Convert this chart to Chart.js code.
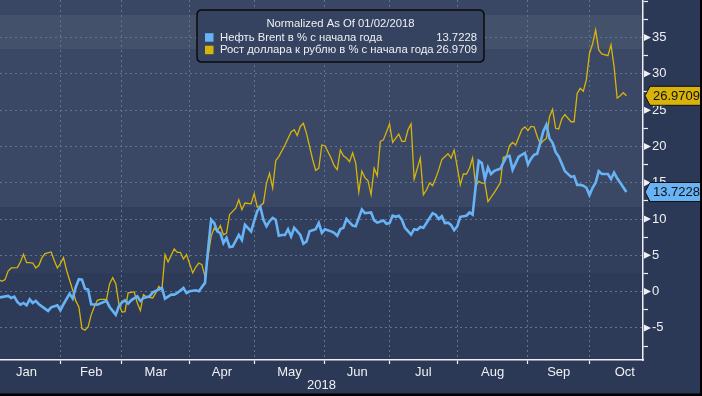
<!DOCTYPE html>
<html>
<head>
<meta charset="utf-8">
<script src="https://cdn.jsdelivr.net/npm/chart.js@4.4.1/dist/chart.umd.min.js"></script>
<style>
html,body{margin:0;padding:0;background:#2c3956;overflow:hidden;}
#wrap{width:702px;height:396px;position:relative;}
</style>
</head>
<body>
<div id="wrap"><canvas id="c" width="702" height="396"></canvas></div>
<script>
// x values are weekday (trading-day) indices counted from Mon 2018-01-01 = 0
const brentDays = [
  3,6,7,8,9,10,11,12,13,14,
  15,16,19,20,22,23,24,26,27,28,
  29,30,31,32,33,35,38,39,41,42,
  43,44,45,46,48,49,50,52,53,55,
  56,57,59,60,61,63,64,65,67,68,
  69,70,71,72,73,74,75,76,77,78,
  79,81,82,83,85,86,87,88,89,90,
  91,92,93,94,95,96,97,98,99,101,
  102,103,104,106,107,108,109,111,112,113,
  114,115,116,118,119,120,121,122,124,125,
  126,128,129,130,131,132,133,134,135,137,
  138,139,140,141,142,144,145,146,147,148,
  149,150,151,152,153,155,156,157,158,159,
  160,161,162,163,164,165,166,168,169,170,
  171,172,174,175,176,177,178,179,180,181,
  182,183,184,185,186,187,189,190,191,192,
  193,194,195,196,197,198,199,201,202,203,
  204,205,207
];
const brentValues = [
  -0.83,-0.6,-0.87,-0.69,-1.42,-1.79,-1.56,-1.88,-1.06,-1.56,
  -1.28,-1.74,-2.66,-2.16,-1.88,-2.57,-1.74,-0.28,-0.96,0.64,
  1.7,1.65,0.41,0.28,-1.74,-1.79,-1.28,-2.11,-3.21,-2.0,
  -1.5,-1.2,-1.65,-1.2,-0.64,-1.3,-0.87,-0.64,-0.1,0.28,
  0.5,-0.96,-0.41,-0.41,-0.18,0.5,-0.18,0.05,0.18,0.05,
  0.64,1.2,5.8,9.9,9.45,8.3,8.07,6.7,7.4,6.15,
  6.2,7.8,7.1,9.2,8.3,9.75,11.1,11.65,9.9,9.0,
  9.7,10.15,9.9,7.7,7.8,7.8,8.6,7.6,8.8,7.8,
  6.6,6.9,8.3,8.6,9.45,8.1,8.6,8.3,8.1,7.7,
  8.6,8.8,10.0,9.1,9.0,10.15,11.3,10.8,10.9,9.8,
  9.5,9.8,9.35,9.45,10.45,10.3,10.45,9.9,8.8,7.85,
  8.6,8.5,8.9,8.8,9.45,10.8,10.6,10.0,10.4,9.45,
  9.5,9.2,8.45,9.0,10.3,10.45,10.9,10.6,14.5,18.0,
  17.7,15.5,17.1,16.2,16.6,16.8,16.9,18.6,18.7,16.8,
  17.7,18.6,19.1,17.5,18.3,18.85,19.0,20.5,22.1,23.0,
  21.1,20.5,19.2,18.6,17.6,16.6,15.8,15.9,14.7,14.7,
  14.6,14.3,13.3,14.3,15.0,16.6,16.2,16.2,15.5,16.4,
  15.6,15.0,13.7228
];
const usdDays = [
  3,4,5,6,7,9,10,11,12,13,
  14,15,16,17,18,20,21,22,23,24,
  25,26,27,28,29,30,31,32,33,34,
  35,36,38,39,40,41,42,43,44,45,
  47,48,49,50,51,53,54,55,56,57,
  58,60,61,62,63,64,66,67,68,69,
  70,71,72,73,74,75,76,77,78,80,
  81,82,83,85,86,87,88,89,90,91,
  92,93,94,96,98,99,100,101,102,103,
  105,106,107,108,109,111,112,113,114,115,
  116,117,118,119,120,121,122,123,124,125,
  126,127,128,130,131,133,134,135,136,137,
  138,140,141,142,143,144,145,146,147,149,
  150,151,152,153,154,155,156,157,158,159,
  160,161,162,164,165,166,167,168,169,170,
  171,173,174,175,176,177,178,179,180,181,
  182,183,184,185,186,187,189,190,191,192,
  193,194,195,196,197,198,199,201,202,203,
  204,205,206,207
];
const usdValues = [
  1.65,1.42,1.65,2.84,3.26,3.3,4.08,5.14,3.99,3.99,
  3.94,3.26,3.62,4.68,5.23,5.46,4.3,3.26,3.85,4.68,
  2.94,1.56,0.18,-1.28,-2.11,-5.09,-5.32,-4.86,-3.2,-2.11,
  -1.19,-1.06,-1.06,1.1,1.93,1.1,-1.65,-2.8,-2.75,-0.18,
  -0.05,-1.56,-2.61,-0.41,-0.73,-0.87,-0.18,0.73,0.28,5.09,
  4.08,5.87,5.41,5.41,4.5,5.09,2.57,3.39,3.94,3.72,
  2.11,4.86,7.61,8.76,8.3,9.08,7.84,8.07,10.6,11.5,
  12.66,11.28,12.2,12.1,13.5,11.65,11.83,12.2,14.95,16.3,
  14.27,18.03,18.6,20.2,22.0,22.3,21.5,22.75,23.2,21.8,
  18.2,16.7,17.0,20.2,20.1,18.4,17.34,16.8,19.5,18.7,
  18.4,17.9,19.1,17.7,13.7,16.6,15.7,15.25,13.35,17.0,
  15.96,20.7,20.9,23.1,20.55,21.7,20.7,20.7,22.3,23.1,
  15.5,18.4,13.35,14.0,14.95,14.6,15.6,16.8,18.2,19.0,
  18.4,19.5,17.2,14.7,16.2,16.2,17.0,18.4,14.6,15.2,
  14.95,14.95,12.4,13.6,14.3,15.0,18.5,18.6,20.1,20.55,
  20.2,22.3,22.7,22.2,22.75,22.7,21.4,20.3,20.8,21.1,
  24.1,25.1,22.5,22.4,23.8,24.4,23.4,23.4,27.3,28.0,
  27.6,29.2,32.8,34.1,36.05,33.3,32.75,32.5,34.0,31.0,
  26.65,26.97,27.4,26.9709
];

// month boundaries (first weekday index of each month, Jan..Nov) and labels
const monthStarts = [1,23,43,65,86,109,130,152,175,195,218];
const monthNames = ['Jan','Feb','Mar','Apr','May','Jun','Jul','Aug','Sep','Oct'];
const yearLabel = '2018';
const yMajorTicks = [-5,0,5,10,15,20,25,30,35];
const yMinorTicks = [-7.5,-2.5,2.5,7.5,12.5,17.5,22.5,27.5,32.5,37.5,40];
const legendTitle = 'Normalized As Of 01/02/2018';
const seriesNames = ['Нефть Brent в % с начала года','Рост доллара к рублю в % с начала года'];

const X_MIN = 3.36, X_MAX = 212.4, Y_MIN = -9.42, Y_MAX = 40.17;
const FONT = '"Liberation Sans", Arial, sans-serif';
const TEXT = '#eef0f3';
const GRID = '#5b7593';
const BLUE = '#68b3f5';
const GOLD = '#d8b40a';

const boundaryTicks = monthStarts.filter(v => v > X_MIN && v < X_MAX);
const labelTicks = monthNames.map((m, i) => (monthStarts[i] + monthStarts[i + 1]) / 2);

const bgPlugin = {
  id: 'bg',
  beforeDraw(chart) {
    const { ctx, chartArea: a, width, height } = chart;
    ctx.save();
    ctx.fillStyle = '#2c3956';
    ctx.fillRect(0, 0, width, height);
    const h = a.bottom - a.top;
    const bands = [[0, 15, '#3a4764'], [15, 49, '#44516b'], [49, 207, '#3a4866'], [207, 273, '#313f5c'], [273, h, '#2e3b58']];
    bands.forEach(([t, b, c]) => {
      ctx.fillStyle = c;
      ctx.fillRect(a.left, a.top + t, a.right - a.left, b - t);
    });
    ctx.restore();
  }
};

function rrect(ctx, x, y, w, h, r) {
  ctx.beginPath();
  ctx.moveTo(x + r, y);
  ctx.lineTo(x + w - r, y); ctx.quadraticCurveTo(x + w, y, x + w, y + r);
  ctx.lineTo(x + w, y + h - r); ctx.quadraticCurveTo(x + w, y + h, x + w - r, y + h);
  ctx.lineTo(x + r, y + h); ctx.quadraticCurveTo(x, y + h, x, y + h - r);
  ctx.lineTo(x, y + r); ctx.quadraticCurveTo(x, y, x + r, y);
  ctx.closePath();
}

const decoPlugin = {
  id: 'deco',
  afterDraw(chart) {
    const { ctx, chartArea: a } = chart;
    const y = chart.scales.y;
    ctx.save();
    // major tick triangles
    ctx.fillStyle = TEXT;
    yMajorTicks.forEach(v => {
      const py = y.getPixelForValue(v);
      ctx.beginPath();
      ctx.moveTo(a.right + 1, py - 3.5);
      ctx.lineTo(a.right + 8, py);
      ctx.lineTo(a.right + 1, py + 3.5);
      ctx.closePath();
      ctx.fill();
    });
    // last value badges
    chart.data.datasets.forEach(ds => {
      const last = ds.data[ds.data.length - 1].y;
      const py = y.getPixelForValue(last);
      const x0 = a.right + 2;
      ctx.beginPath();
      ctx.moveTo(x0, py);
      ctx.lineTo(x0 + 5, py - 9.5);
      ctx.lineTo(702, py - 9.5);
      ctx.lineTo(702, py + 9.5);
      ctx.lineTo(x0 + 5, py + 9.5);
      ctx.closePath();
      ctx.fillStyle = ds.borderColor;
      ctx.fill();
      ctx.lineWidth = 1;
      ctx.strokeStyle = '#111';
      ctx.stroke();
      ctx.fillStyle = '#111';
      ctx.font = '13px ' + FONT;
      ctx.textBaseline = 'middle';
      ctx.textAlign = 'left';
      ctx.fillText(last.toFixed(4), x0 + 8, py + 0.5);
    });
    // legend box
    const lx = 197, ly = 10, lw = 287, lh = 52;
    rrect(ctx, lx, ly, lw, lh, 5);
    ctx.fillStyle = '#354360';
    ctx.fill();
    ctx.lineWidth = 1.5;
    ctx.strokeStyle = '#0b0b0b';
    ctx.stroke();
    ctx.font = '11.3px ' + FONT;
    ctx.fillStyle = TEXT;
    ctx.textBaseline = 'middle';
    ctx.textAlign = 'center';
    ctx.fillText(legendTitle, lx + lw / 2, ly + 13.5);
    chart.data.datasets.forEach((ds, i) => {
      const sy = ly + 27.5 + i * 12.5;
      ctx.fillStyle = ds.borderColor;
      ctx.fillRect(lx + 8, sy - 4.3, 8.5, 8.5);
      ctx.fillStyle = TEXT;
      ctx.textAlign = 'left';
      ctx.fillText(ds.label, lx + 23, sy);
      ctx.textAlign = 'right';
      ctx.fillText(ds.data[ds.data.length - 1].y.toFixed(4), lx + lw - 7, sy);
    });
    // outer black frame (right and bottom)
    ctx.fillStyle = '#000';
    ctx.fillRect(700, 0, 2, 396);
    ctx.fillRect(0, 393.5, 702, 2.5);
    ctx.restore();
  }
};

function noPad(s) { s.paddingTop = 0; s.paddingBottom = 0; s.paddingLeft = 0; s.paddingRight = 0; }

new Chart(document.getElementById('c'), {
  type: 'line',
  data: {
    datasets: [
      { label: seriesNames[0], data: brentDays.map((d, i) => ({ x: d, y: brentValues[i] })),
        borderColor: BLUE, backgroundColor: BLUE, borderWidth: 2.6, pointRadius: 0, tension: 0 },
      { label: seriesNames[1], data: usdDays.map((d, i) => ({ x: d, y: usdValues[i] })),
        borderColor: GOLD, backgroundColor: GOLD, borderWidth: 1.3, pointRadius: 0, tension: 0 }
    ]
  },
  options: {
    responsive: false, animation: false, devicePixelRatio: 1,
    layout: { padding: 0 },
    plugins: { legend: { display: false }, tooltip: { enabled: false } },
    scales: {
      x: {
        type: 'linear', min: X_MIN, max: X_MAX,
        afterBuildTicks: s => {
          s.ticks = boundaryTicks.concat(labelTicks).sort((p, q) => p - q).map(v => ({ value: v }));
        },
        ticks: {
          autoSkip: false, maxRotation: 0, minRotation: 0, padding: 1,
          color: TEXT, font: { family: FONT, size: 13 },
          callback: v => { const k = labelTicks.indexOf(v); return k >= 0 ? monthNames[k] : ''; }
        },
        grid: {
          color: c => (c.tick && boundaryTicks.includes(c.tick.value)) ? GRID : 'rgba(0,0,0,0)',
          tickColor: c => (c.tick && boundaryTicks.includes(c.tick.value)) ? TEXT : 'rgba(0,0,0,0)',
          tickLength: 4, lineWidth: 1, tickWidth: 1.2
        },
        border: { display: true, color: TEXT, width: 1.5, dash: [2, 3] },
        title: { display: true, text: yearLabel, color: TEXT, font: { family: FONT, size: 13 }, padding: { top: 0, bottom: 3 } },
        afterFit: s => { s.height = 36; noPad(s); }
      },
      y: {
        type: 'linear', position: 'right', min: Y_MIN, max: Y_MAX,
        afterBuildTicks: s => {
          s.ticks = yMajorTicks.concat(yMinorTicks).sort((p, q) => p - q).map(v => ({ value: v }));
        },
        ticks: {
          autoSkip: false, padding: 4, color: TEXT, font: { family: FONT, size: 13 },
          callback: v => yMajorTicks.includes(v) ? String(v) : ''
        },
        grid: {
          color: c => (c.tick && yMajorTicks.includes(c.tick.value)) ? GRID : 'rgba(0,0,0,0)',
          tickColor: c => (c.tick && yMajorTicks.includes(c.tick.value)) ? 'rgba(0,0,0,0)' : TEXT,
          tickLength: 5, lineWidth: 1, tickWidth: 1.2
        },
        border: { display: true, color: TEXT, width: 1.5, dash: [2, 3] },
        afterFit: s => { s.width = 59; noPad(s); }
      }
    }
  },
  plugins: [bgPlugin, decoPlugin]
});
</script>
</body>
</html>
